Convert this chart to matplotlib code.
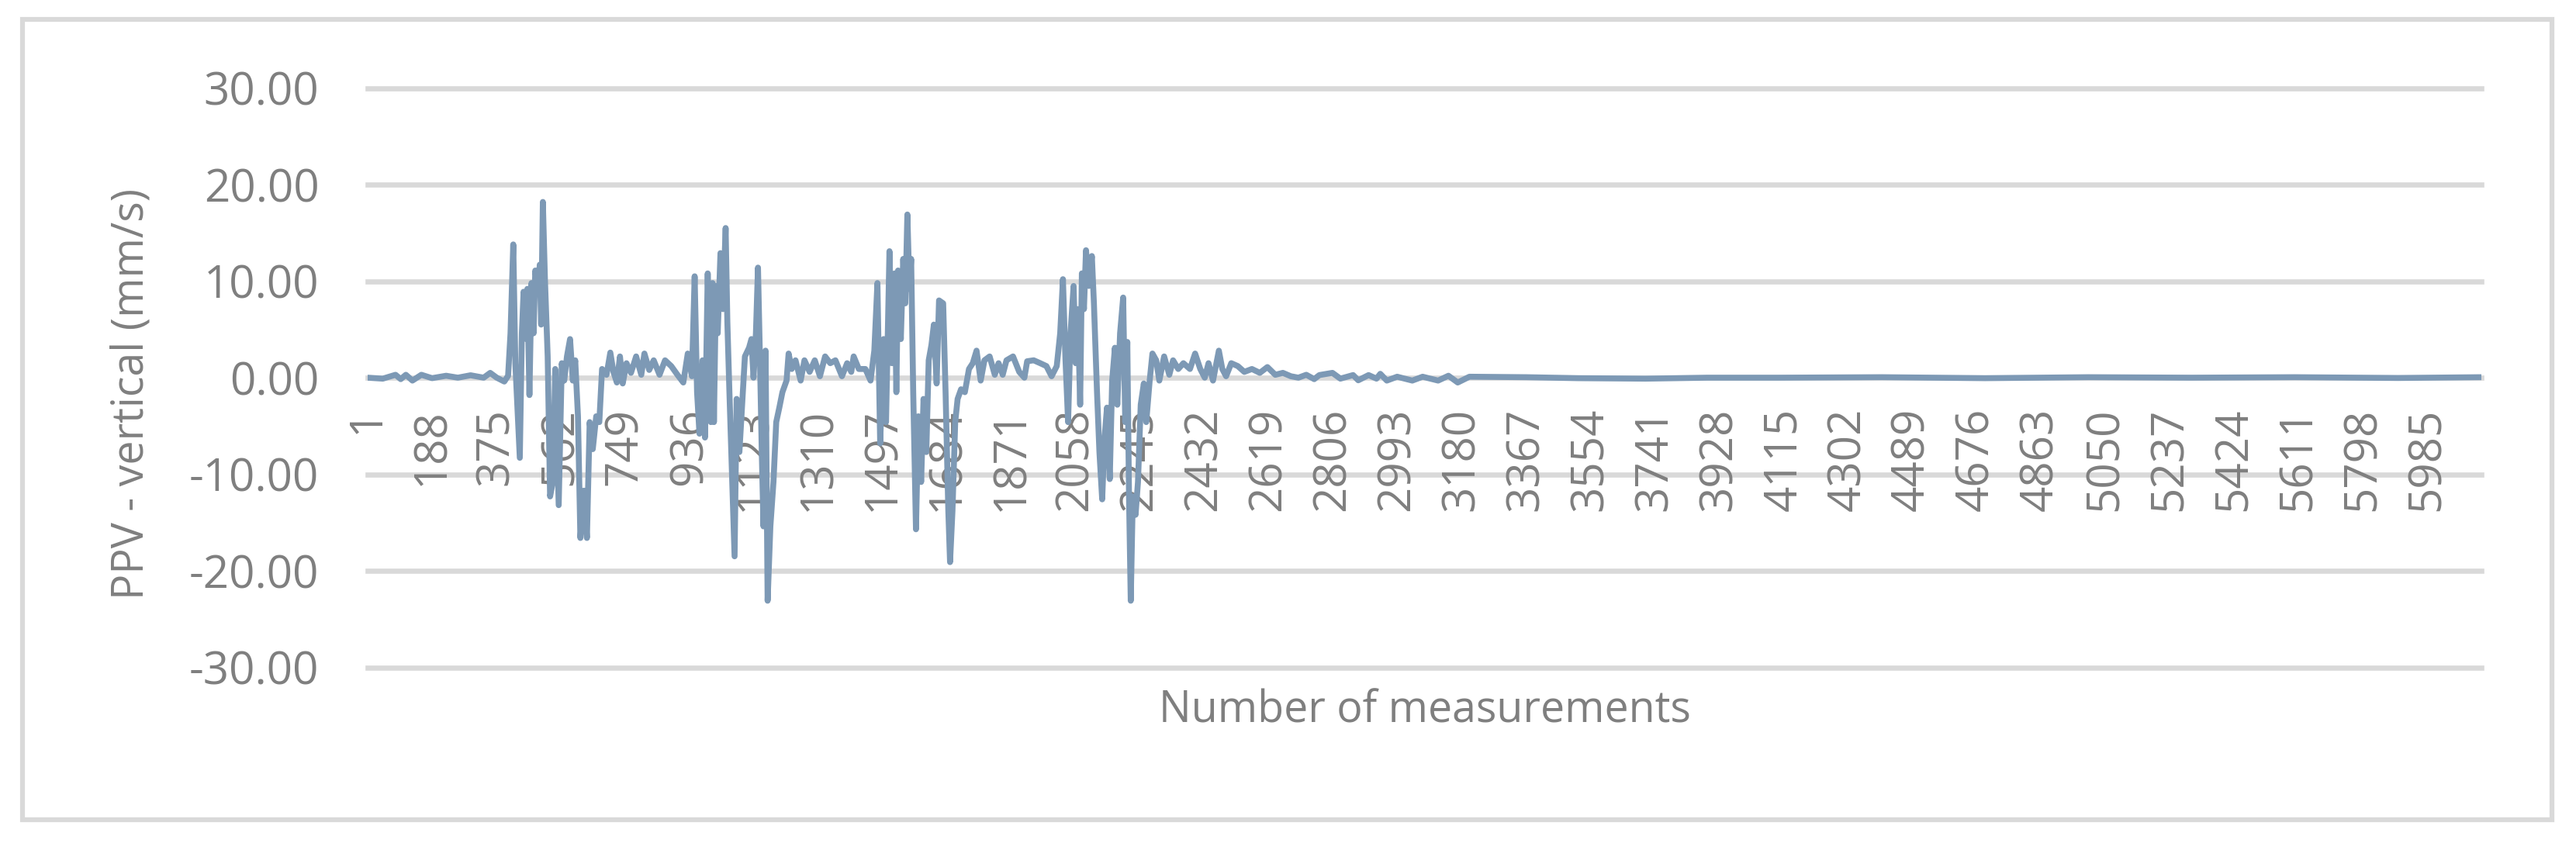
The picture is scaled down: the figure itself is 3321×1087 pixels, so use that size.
import matplotlib
matplotlib.use("Agg")
import matplotlib.pyplot as plt
from matplotlib.patches import Rectangle

sample_idx = [1, 45, 82, 97, 112, 131, 157, 188, 229, 263, 300, 338, 357, 376, 398, 409,
              416, 424, 430, 443, 449, 454, 462, 465, 471, 477, 483, 488, 495, 501, 505, 510,
              516, 524, 531, 539, 546, 556, 565, 572, 580, 589, 597, 604, 612, 619, 629, 638,
              646, 655, 665, 674, 682, 695, 706, 715, 725, 734, 742, 753, 766, 781, 796, 805,
              819, 832, 849, 865, 883, 901, 918, 931, 943, 951, 958, 965, 974, 981, 989, 998,
              1003, 1007, 1013, 1018, 1026, 1033, 1041, 1046, 1052, 1060, 1067, 1073, 1081,
              1090, 1097, 1109, 1116, 1122, 1129, 1135, 1141, 1146, 1151, 1157, 1163, 1171,
              1180, 1188, 1197, 1206, 1218, 1224, 1233, 1244, 1259, 1270, 1285, 1300, 1315,
              1330, 1345, 1360, 1379, 1394, 1406, 1413, 1428, 1447, 1462, 1473, 1482, 1490,
              1500, 1507, 1517, 1524, 1532, 1537, 1542, 1550, 1557, 1563, 1569, 1575, 1580,
              1586, 1594, 1601, 1609, 1616, 1624, 1631, 1639, 1646, 1654, 1661, 1673, 1680,
              1688, 1693, 1700, 1708, 1715, 1725, 1736, 1748, 1759, 1770, 1782, 1793, 1808,
              1823, 1834, 1846, 1857, 1876, 1894, 1909, 1917, 1936, 1955, 1973, 1988, 2003,
              2013, 2021, 2028, 2036, 2043, 2052, 2058, 2064, 2071, 2076, 2082, 2088, 2096,
              2105, 2111, 2120, 2127, 2135, 2142, 2149, 2157, 2164, 2172, 2179, 2187, 2196,
              2202, 2208, 2213, 2218, 2224, 2232, 2239, 2247, 2256, 2263, 2273, 2281, 2292,
              2301, 2315, 2330, 2341, 2356, 2371, 2390, 2405, 2420, 2433, 2444, 2457, 2474,
              2484, 2495, 2510, 2529, 2548, 2570, 2593, 2615, 2638, 2660, 2683, 2705, 2728,
              2751, 2766, 2804, 2827, 2864, 2879, 2909, 2932, 2943, 2962, 2992, 3036, 3066,
              3111, 3141, 3168, 3202, 3367, 3517, 3713, 3893, 4100, 4400, 4700, 5000, 5300,
              5600, 5900, 6142]
ppv = [0.0, -0.1, 0.3, -0.15, 0.3, -0.3, 0.3, -0.05, 0.2, 0.0, 0.25, 0.0, 0.5, 0.0, -0.4, 0.2,
       4.6, 13.8, 1.5, -8.3, 4.6, 8.9, 4.0, 9.2, -1.8, 9.8, 4.6, 11.1, 8.9, 11.7, 5.5, 18.2,
       10.2, 2.2, -12.3, -10.8, 0.9, -13.2, 1.5, -0.3, 2.2, 4.0, -0.3, 1.8, -4.0, -16.6, -11.7, -16.6,
       -4.6, -7.4, -4.0, -4.6, 0.9, 0.3, 2.6, 0.6, -0.5, 2.2, -0.6, 1.5, 0.5, 2.2, 0.3, 2.5,
       0.8, 1.8, 0.3, 1.8, 1.2, 0.3, -0.5, 2.5, 0.15, 10.5, -1.5, -5.8, 1.8, -6.2, 10.8, -4.6,
       9.8, -4.6, 9.5, 4.6, 12.9, 7.1, 15.5, 5.8, -1.5, -10.5, -18.5, -2.2, -7.7,
       -2.2, 2.2, 3.1, 4.0, 0.0, 4.6, 11.4, 1.5, -7.7, -15.4, 2.8, -23.1, -15.4,
       -10.8, -4.6, -3.1, -1.5, -0.3, 2.5, 0.9, 1.8, -0.3, 1.8, 0.6, 1.8, 0.15,
       2.2, 1.5, 1.8, 0.15, 1.5, 0.6, 2.2, 0.9, 0.9, -0.3, 2.8, 9.8, -6.8,
       4.0, -4.6, 13.1, 1.5, 10.8, -1.5, 11.1, 4.0, 12.3, 7.7, 16.9, 9.2, 12.3,
       -1.5, -15.7, -4.0, -10.8, -2.2, -7.7, 1.8, 3.4, 5.5, -0.6, 8.0, 7.7, -1.5,
       -13.8, -19.1, -13.8, -4.6, -2.2, -1.2, -1.5, 0.9, 1.5, 2.8, -0.3, 1.8, 2.2,
       0.3, 1.5, 0.3, 1.8, 2.2, 0.6, 0.0, 1.7, 1.8, 1.5, 1.2, 0.15, 1.2,
       4.6, 10.2, 2.2, -4.6, 4.6, 9.5, 1.5, 7.1, -2.8, 10.8, 7.1, 13.2, 9.5,
       12.6, 7.7, -1.5, -7.7, -12.6, -6.2, -3.1, -10.5, -0.3, 3.1, -2.8, 4.6, 8.3,
       -4.6, 3.7, -12.3, -23.1, -12.3, -14.2, -10.8, -2.8, -0.6, -4.6, -0.3, 2.5, 1.8,
       -0.3, 2.2, 0.3, 1.8, 0.9, 1.5, 0.9, 2.5, 0.9, 0.0, 1.5, -0.3, 2.8,
       0.9, 0.15, 1.5, 1.2, 0.6, 0.9, 0.5, 1.1, 0.3, 0.5, 0.15, 0.0, 0.3,
       -0.15, 0.27, 0.5, -0.1, 0.27, -0.27, 0.27, -0.1, 0.4, -0.3, 0.1, -0.3, 0.1,
       -0.3, 0.2, -0.5, 0.1, 0.05, -0.05, -0.1, 0.0, 0.0, 0.05, -0.05, 0.05, 0.0,
       0.05, -0.03, 0.05]

n_points = 6142
tick_pos = list(range(1, 6000, 187))
y_ticks = [-30, -20, -10, 0, 10, 20, 30]

grey = "#7F7F7F"
font = "Open Sans"

fig = plt.figure(figsize=(33.21, 10.87), dpi=100)
ax = fig.add_axes([474 / 3321, 1 - 860.5 / 1087, (3199 - 474) / 3321, (860.5 - 113.5) / 1087])

# category labels sit under the zero line, like Excel (set before styling ticks)
ax.spines["bottom"].set_position(("data", 0))
for s in ax.spines.values():
    s.set_visible(False)

ax.plot(sample_idx, ppv, color="#7D99B5", lw=5.5, solid_joinstyle="round", solid_capstyle="round", zorder=3)

ax.set_xlim(1, n_points)
ax.set_ylim(-30, 30)
ax.set_yticks(y_ticks)
ax.set_yticklabels([f"{v:.2f}" for v in y_ticks])
ax.set_xticks(tick_pos)
ax.set_xticklabels([str(t) for t in tick_pos])
ax.tick_params(axis="x", length=0, pad=28, labelrotation=90)
ax.tick_params(axis="y", length=0, pad=45)
for lbl in ax.get_xticklabels() + ax.get_yticklabels():
    lbl.set_fontfamily(font)
    lbl.set_fontsize(42)
    lbl.set_color(grey)

ax.grid(axis="y", color="#D9D9D9", lw=4.8)
ax.grid(axis="x", visible=False)
for gl in ax.get_ygridlines():
    gl.set_clip_on(False)
# x labels over the gridlines, under the data line
ax.yaxis.set_zorder(1)
ax.xaxis.set_zorder(2.7)

fig.text(170 / 3321, 1 - 508 / 1087, "PPV - vertical (mm/s)", rotation=90, ha="center", va="center",
         family=font, fontsize=40, color=grey)
fig.text(1837 / 3321, 1 - 917 / 1087, "Number of measurements", ha="center", va="center",
         family=font, fontsize=40, color=grey)

fig.add_artist(Rectangle((29 / 3321, 1 - 1057 / 1087), (3290 - 29) / 3321, (1057 - 25) / 1087,
                         transform=fig.transFigure, fill=False, ec="#D9D9D9", lw=4.5))

fig.savefig("out.png", dpi=100)
